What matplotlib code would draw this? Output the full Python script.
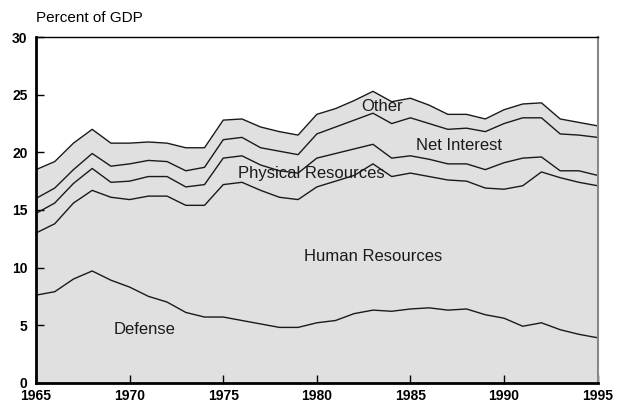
import matplotlib.pyplot as plt

years = list(range(1965, 1996))

# cumulative levels (percent of GDP)
defense = [7.6, 7.9, 9.0, 9.7, 8.9, 8.3, 7.5, 7.0, 6.1, 5.7, 5.7, 5.4, 5.1, 4.8, 4.8, 5.2,
           5.4, 6.0, 6.3, 6.2, 6.4, 6.5, 6.3, 6.4, 5.9, 5.6, 4.9, 5.2, 4.6, 4.2, 3.9]
human_top = [13.0, 13.8, 15.6, 16.7, 16.1, 15.9, 16.2, 16.2, 15.4, 15.4, 17.2, 17.4, 16.7, 16.1, 15.9, 17.0,
             17.5, 18.0, 19.0, 17.9, 18.2, 17.9, 17.6, 17.5, 16.9, 16.8, 17.1, 18.3, 17.8, 17.4, 17.1]
physical_top = [14.7, 15.6, 17.3, 18.6, 17.4, 17.5, 17.9, 17.9, 17.0, 17.2, 19.5, 19.7, 18.9, 18.4, 18.2, 19.5,
                19.9, 20.3, 20.7, 19.5, 19.7, 19.4, 19.0, 19.0, 18.5, 19.1, 19.5, 19.6, 18.4, 18.4, 18.0]
interest_top = [16.0, 16.9, 18.5, 19.9, 18.8, 19.0, 19.3, 19.2, 18.4, 18.7, 21.1, 21.3, 20.4, 20.1, 19.8, 21.6,
                22.2, 22.8, 23.4, 22.5, 23.0, 22.5, 22.0, 22.1, 21.8, 22.5, 23.0, 23.0, 21.6, 21.5, 21.3]
total = [18.5, 19.2, 20.8, 22.0, 20.8, 20.8, 20.9, 20.8, 20.4, 20.4, 22.8, 22.9, 22.2, 21.8, 21.5, 23.3,
         23.8, 24.5, 25.3, 24.4, 24.7, 24.1, 23.3, 23.3, 22.9, 23.7, 24.2, 24.3, 22.9, 22.6, 22.3]

labels = ['Defense', 'Human Resources', 'Physical Resources', 'Net Interest', 'Other']
label_pos = [(1970.8, 4.6), (1983.0, 11.0), (1979.7, 18.2), (1987.6, 20.6), (1983.5, 24.0)]

plt.rcParams['font.family'] = ['Liberation Sans', 'DejaVu Sans']

fig = plt.figure(figsize=(6.18, 4.0), dpi=100)
ax = fig.add_axes([0.0583, 0.0433, 0.9087, 0.8637])

ax.fill_between(years, 0, total, color='#e0e0e0', lw=0)
for line in [defense, human_top, physical_top, interest_top, total]:
    ax.plot(years, line, color='#1a1a1a', lw=1.0)

for text, (x, y) in zip(labels, label_pos):
    ax.text(x, y, text, ha='center', va='center', fontsize=12, color='#1a1a1a')

ax.set_xlim(1965, 1995)
ax.set_ylim(0, 30)
ax.set_xticks(range(1965, 1996, 5))
ax.set_yticks(range(0, 31, 5))
ax.tick_params(direction='in', length=6, width=1, labelsize=10)
ax.tick_params(axis='x', pad=4.5)
ax.tick_params(axis='y', pad=6)
for lbl in ax.get_xticklabels() + ax.get_yticklabels():
    lbl.set_fontweight('bold')

ax.spines['left'].set_linewidth(2)
ax.spines['bottom'].set_linewidth(2)
ax.spines['top'].set_linewidth(1)
ax.spines['right'].set_linewidth(1.5)
ax.spines['right'].set_color('#888888')

fig.text(0.058, 0.955, 'Percent of GDP', fontsize=11, ha='left', va='center')

fig.savefig('out.png', dpi=100)
